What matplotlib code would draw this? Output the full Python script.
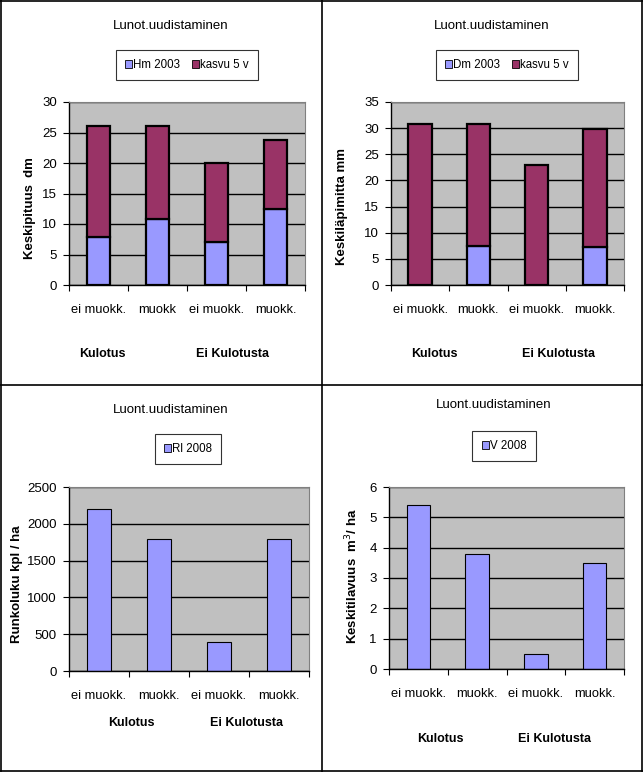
import matplotlib
matplotlib.use("Agg")
import matplotlib.pyplot as plt
from matplotlib.patches import Patch
from matplotlib.lines import Line2D

plt.rcParams['font.family'] = ['Liberation Sans', 'DejaVu Sans']

categories = ["ei muokk.", "muokk", "ei muokk.", "muokk."]
categories2 = ["ei muokk.", "muokk.", "ei muokk.", "muokk."]
groups = ["Kulotus", "Ei Kulotusta"]

hm_2003 = [7.8, 10.9, 7.0, 12.4]
hm_kasvu = [18.2, 15.1, 13.0, 11.4]
dm_2003 = [0.0, 7.5, 0.0, 7.3]
dm_kasvu = [30.8, 23.3, 22.9, 22.5]
rl_2008 = [2200, 1800, 400, 1800]
v_2008 = [5.4, 3.8, 0.5, 3.5]

W, H = 643, 772
LIGHT = "#9999FF"
MAROON = "#993366"
GRAY = "#C0C0C0"

fig = plt.figure(figsize=(W / 100, H / 100), dpi=100)
fig.patch.set_facecolor("white")


def rect(l, t, r, b):
    return [l / W, 1 - b / H, (r - l) / W, (b - t) / H]


def fx(x):
    return x / W


def fy(y):
    return 1 - y / H


def setup(ax, ymax, ystep, labels, ylabel):
    ax.set_facecolor(GRAY)
    ax.set_xlim(-0.5, 3.5)
    ax.set_ylim(0, ymax)
    ax.set_yticks(range(0, ymax + 1, ystep))
    ax.yaxis.grid(True, color="black", lw=1.0)
    ax.set_axisbelow(True)
    ax.set_xticks([-0.5, 0.5, 1.5, 2.5, 3.5])
    ax.set_xticklabels([])
    ax.set_xticks(range(4), minor=True)
    ax.set_xticklabels(labels, minor=True, fontsize=9.3)
    ax.tick_params(axis="x", which="major", length=4, direction="out", color="black")
    ax.tick_params(axis="x", which="minor", length=0, pad=14)
    ax.tick_params(axis="y", length=4.3, direction="out", labelsize=9.5, pad=4.5)
    for s in ["top", "right"]:
        ax.spines[s].set_color("#808080")
        ax.spines[s].set_linewidth(0.8)
    for s in ["left", "bottom"]:
        ax.spines[s].set_color("black")
        ax.spines[s].set_linewidth(1.0)
    ax.set_ylabel(ylabel, fontsize=9.5, fontweight="bold")


x = range(4)

# top left
ax1 = fig.add_axes(rect(69, 102, 305, 285))
ax1.bar(x, hm_2003, width=0.4, color=LIGHT, edgecolor="black", lw=1.6)
ax1.bar(x, hm_kasvu, bottom=hm_2003, width=0.4, color=MAROON, edgecolor="black", lw=1.6)
setup(ax1, 30, 5, categories, "Keskipituus  dm")
ax1.yaxis.set_label_coords(-0.14, 0.42)

# top right
ax2 = fig.add_axes(rect(391, 102, 624, 285))
ax2.bar(x, dm_2003, width=0.4, color=LIGHT, edgecolor="black", lw=1.6)
ax2.bar(x, dm_kasvu, bottom=dm_2003, width=0.4, color=MAROON, edgecolor="black", lw=1.6)
setup(ax2, 35, 5, categories2, "Keskiläpimitta mm")
ax2.yaxis.set_label_coords(-0.185, 0.43)

# bottom left
ax3 = fig.add_axes(rect(69, 487, 309, 671))
ax3.bar(x, rl_2008, width=0.4, color=LIGHT, edgecolor="black", lw=0.8)
setup(ax3, 2500, 500, categories2, "Runkoluku kpl / ha")
ax3.yaxis.set_label_coords(-0.19, 0.47)

# bottom right
ax4 = fig.add_axes(rect(389, 487, 624, 669))
ax4.bar(x, v_2008, width=0.4, color=LIGHT, edgecolor="black", lw=0.8)
setup(ax4, 6, 1, categories2, "Keskitilavuus  m$^3$/ ha")
ax4.yaxis.set_label_coords(-0.123, 0.51)

# titles
fig.text(fx(171), fy(26), "Lunot.uudistaminen", ha="center", va="center", fontsize=9.5)
fig.text(fx(322 + 170), fy(26), "Luont.uudistaminen", ha="center", va="center", fontsize=9.5)
fig.text(fx(171), fy(385 + 25), "Luont.uudistaminen", ha="center", va="center", fontsize=9.5)
fig.text(fx(322 + 172), fy(385 + 20), "Luont.uudistaminen", ha="center", va="center", fontsize=9.5)

# group labels
for cx, cy, name in [(102, 354, groups[0]), (233, 354, groups[1]),
                     (322 + 112, 354, groups[0]), (322 + 237, 354, groups[1]),
                     (131, 385 + 338, groups[0]), (246, 385 + 338, groups[1]),
                     (322 + 118, 385 + 354, groups[0]), (322 + 233, 385 + 354, groups[1])]:
    fig.text(fx(cx), fy(cy), name, ha="center", va="center", fontsize=9, fontweight="bold")


def legend(labels, colors, cx, cy):
    handles = [Patch(facecolor=c, edgecolor="black", lw=0.6) for c in colors]
    lg = fig.legend(handles, labels, loc="center", bbox_to_anchor=(fx(cx), fy(cy)),
                    ncol=len(labels), frameon=True, fancybox=False, fontsize=8.3,
                    handlelength=0.6, handleheight=0.6, handletextpad=0.1,
                    columnspacing=1.0, borderpad=0.8)
    lg.get_frame().set_edgecolor("black")
    lg.get_frame().set_linewidth(0.8)


legend(["Hm 2003", "kasvu 5 v"], [LIGHT, MAROON], 187, 65)
legend(["Dm 2003", "kasvu 5 v"], [LIGHT, MAROON], 322 + 185, 65)
legend(["Rl 2008"], [LIGHT], 188, 385 + 64)
legend(["V 2008"], [LIGHT], 322 + 182, 385 + 61)

# panel borders
for xs, ys in [([1, 1], [0, 771]), ([642, 642], [0, 771]), ([0, 643], [1, 1]),
               ([0, 643], [771, 771]), ([322, 322], [0, 772]), ([0, 643], [385, 385])]:
    fig.add_artist(Line2D([fx(v) for v in xs], [fy(v) for v in ys], color="black", lw=1.2))

fig.savefig("out.png", dpi=100)
